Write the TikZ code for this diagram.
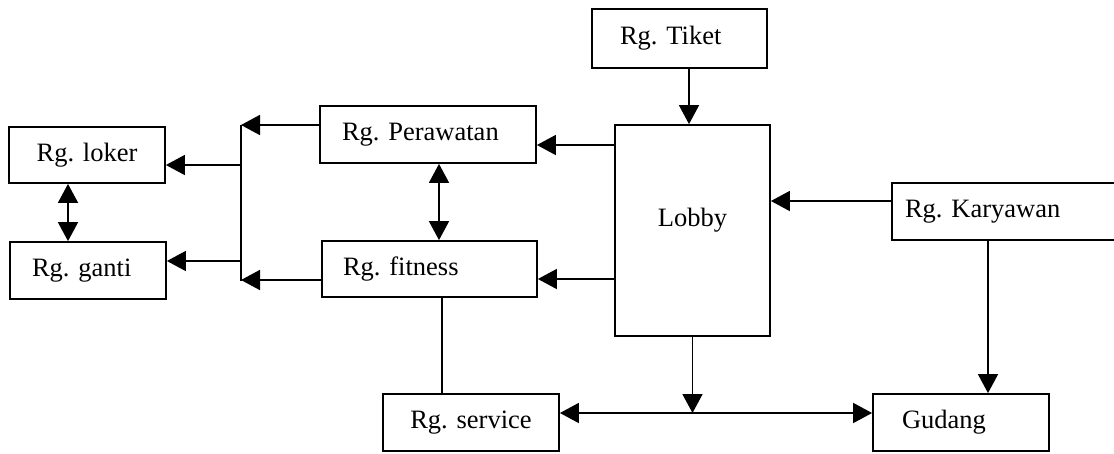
\documentclass[tikz,border=0pt]{standalone}
\usepackage{fontspec}
\setmainfont{Liberation Serif}
\usetikzlibrary{arrows.meta}
\frenchspacing
\begin{document}
\begin{tikzpicture}[x=1pt,y=-1pt,
  room/.style={draw, line width=1.8pt, inner ysep=0pt,
    font=\fontsize{26.5}{30}\selectfont},
  link/.style={line width=1.7pt},
  arr/.style={link, -{Triangle[length=19pt,width=20pt]}},
  both/.style={link, {Triangle[length=19pt,width=20pt]}-{Triangle[length=19pt,width=20pt]}}
]
\useasboundingbox (0,0) rectangle (1114,453);
\clip (0,0) rectangle (1114,453);

% rooms
\node[room, minimum height=56pt, inner xsep=10pt, text width=136pt, align=center] (loker) at (87,155) {Rg. loker};
\node[room, minimum height=57pt, inner xsep=22pt, text width=112pt, align=left] (ganti) at (88,270.5) {Rg. ganti};
\node[room, minimum height=57pt, inner xsep=22pt, text width=172pt, align=left] (pera) at (428,134.5) {Rg. Perawatan};
\node[room, minimum height=56pt, inner xsep=21pt, text width=173pt, align=left] (fit) at (429.5,269) {Rg. fitness};
\node[room, minimum height=59pt, inner xsep=28pt, text width=119pt, align=left] (tiket) at (679.5,38.5) {Rg. Tiket};
\node[room, minimum height=211pt, inner xsep=10pt, text width=135pt, align=center] (lobby) at (692.5,230.5) {\raisebox{26pt}{Lobby}};
\node[room, minimum height=57pt, inner xsep=13pt, text width=212pt, align=left] (kary) at (1011,211.5) {Rg. Karyawan};
\node[room, minimum height=57pt, inner xsep=10pt, text width=156pt, align=center] (service) at (471,422.5) {Rg. service};
\node[room, minimum height=57pt, inner xsep=29pt, text width=118pt, align=left] (gudang) at (961,422.5) {Gudang};

% ticket counter into the lobby
\coordinate (tk) at ([xshift=9.5pt]tiket.south);
\draw[arr] (tk) -- (tk |- lobby.north);

% staff room into the lobby and down to the store
\coordinate (kl) at ([yshift=10.5pt]kary.west);
\draw[arr] (kl) -- (kl -| lobby.east);
\coordinate (gd) at ([xshift=27pt]gudang.north);
\draw[arr] (gd |- kary.south) -- (gd);

% lobby to treatment and fitness rooms
\coordinate (pin) at ([yshift=-10.5pt]pera.east);
\draw[arr] (lobby.west |- pin) -- (pin);
\coordinate (fin) at ([yshift=-10pt]fit.east);
\draw[arr] (lobby.west |- fin) -- (fin);

% treatment <-> fitness
\coordinate (pf) at ([xshift=11pt]pera.south);
\draw[both] (pf) -- (pf |- fit.north);

% distribution line towards locker and changing rooms
\coordinate (busT) at (241,125);
\coordinate (busB) at (241,281);
\draw[link] (busT) -- (busB);
\coordinate (pout) at ([yshift=9.5pt]pera.west);
\draw[arr] (pout) -- (pout -| busT);
\coordinate (fout) at ([yshift=-11pt]fit.west);
\draw[arr] (fout) -- (fout -| busB);
\coordinate (lk) at ([yshift=-10pt]loker.east);
\draw[arr] (lk -| busT) -- (lk);
\coordinate (gt) at ([yshift=9.5pt]ganti.east);
\draw[arr] (gt -| busT) -- (gt);

% locker <-> changing room
\coordinate (lg) at ([xshift=-19pt]loker.south);
\draw[both] (lg) -- (lg |- ganti.north);

% fitness down to service
\coordinate (fs) at ([xshift=12.5pt]fit.south);
\draw[link] (fs) -- (fs |- service.north);

% lobby down to the service / store line
\coordinate (sv) at ([yshift=9.5pt]service.east);
\coordinate (jn) at (lobby.south |- sv);
\draw[both] (sv) -- (sv -| gudang.west);
\draw[arr] (lobby.south) -- (jn);
\end{tikzpicture}
\end{document}
